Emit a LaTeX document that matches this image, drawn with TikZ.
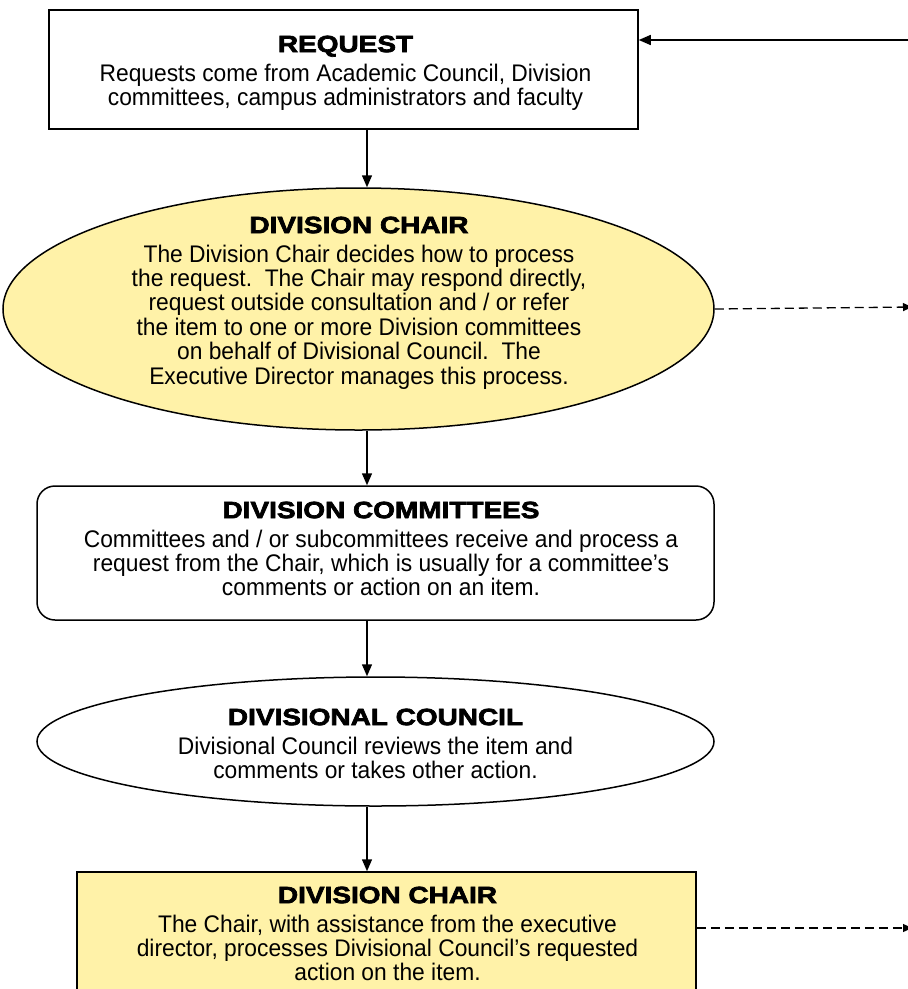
\documentclass[tikz,border=0pt]{standalone}
\usepackage{fontspec}
\setmainfont[FakeStretch=0.95]{Liberation Sans}
\newfontfamily\headfont[FakeBold=3,FakeStretch=1.19]{Liberation Sans Bold}
\usetikzlibrary{shapes.geometric,arrows.meta}
\definecolor{chairyellow}{RGB}{255,242,168}
\setlength{\lineskiplimit}{-30pt}
% heading line of a box
\newcommand{\heading}[1]{{\headfont\fontsize{23.5}{24}\selectfont #1}\\[4.5pt]}
\tikzset{
  flowbox/.style={draw,line width=1.5pt,inner sep=0pt},
  flowtext/.style={anchor=north,align=center,inner sep=0pt,
    font=\fontsize{24}{24.4}\selectfont},
  flowarrow/.style={line width=1.5pt,-{Triangle[length=12pt,width=10pt]}},
  sidearrow/.style={line width=1.3pt,dash pattern=on 9pt off 5pt,-{Triangle[length=9pt,width=8pt]}}
}
\begin{document}
\begin{tikzpicture}[x=1pt,y=-1pt]
\clip (0,0) rectangle (908,989);
\fill[white] (0,0) rectangle (908,989);
% shapes
\node[flowbox,minimum width=589pt,minimum height=119pt] (request) at (343.5,69.5) {};
\node[flowbox,ellipse,fill=chairyellow,minimum width=711pt,minimum height=242pt] (chair) at (358.5,309) {};
\node[flowbox,rounded corners=18pt,minimum width=677pt,minimum height=134pt] (committees) at (375.5,553) {};
\node[flowbox,ellipse,minimum width=677pt,minimum height=129pt] (council) at (375.5,741.5) {};
\node[flowbox,fill=chairyellow,minimum width=619pt,minimum height=140pt] (action) at (386.5,942) {};
% texts
\node[flowtext] (request text) at (345.5,35.5)
  {\heading{REQUEST}Requests come from Academic Council, Division\\committees, campus administrators and faculty};
\node[flowtext] (chair text) at (359,216.5)
  {\heading{DIVISION CHAIR}The Division Chair decides how to process\\the request.\ \ The Chair may respond directly,\\request outside consultation and / or refer\\the item to one or more Division committees\\on behalf of Divisional Council.\ \ The\\Executive Director manages this process.};
\node[flowtext] (committees text) at (381,501.5)
  {\heading{DIVISION COMMITTEES}Committees and / or subcommittees receive and process a\\request from the Chair, which is usually for a committee's\\comments or action on an item.};
\node[flowtext] (council text) at (375.5,708.5)
  {\heading{DIVISIONAL COUNCIL}Divisional Council reviews the item and\\comments or takes other action.};
\node[flowtext] (action text) at (387.5,886.5)
  {\heading{DIVISION CHAIR}The Chair, with assistance from the executive\\director, processes Divisional Council's requested\\action on the item.};
% free ends at the right edge
\coordinate (back) at (910,40);
\coordinate (outa) at (912,307);
\coordinate (outb) at (912,928);
% connectors
\draw[flowarrow] (request.south -| 367,0) -- (chair.north -| 367,0);
\draw[flowarrow] (chair.south -| 367,0) -- (committees.north -| 367,0);
\draw[flowarrow] (committees.south -| 367,0) -- (council.north -| 367,0);
\draw[flowarrow] (council.south -| 367,0) -- (action.north -| 367,0);
\draw[flowarrow] (back) -- (back -| request.east);
\draw[sidearrow] (chair.east) -- (outa);
\draw[sidearrow] (action.east |- outb) -- (outb);
\end{tikzpicture}
\end{document}
